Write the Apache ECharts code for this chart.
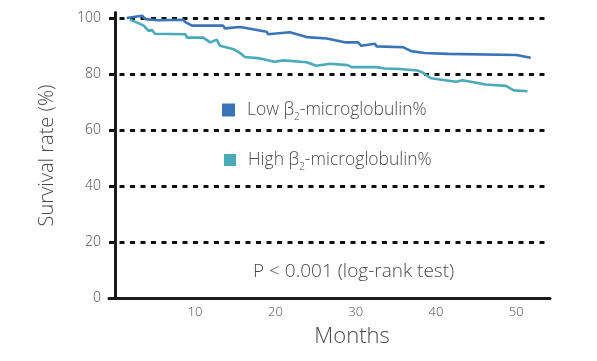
<!DOCTYPE html>
<html>
<head>
<meta charset="utf-8">
<script src="https://cdn.jsdelivr.net/npm/echarts@6/dist/echarts.min.js"></script>
<style>
  html, body { margin: 0; padding: 0; background: #fff; }
  #chart { width: 597px; height: 361px; }
</style>
</head>
<body>
<div id="chart"></div>
<script>
// survival curves: [month, survival %]
var lowMonths = [1.5, 3.4, 3.8, 5.4, 8.5, 8.8, 9.6, 13.5, 13.7, 15.6, 17.2, 18.9, 19.1, 21.8, 23.9, 26.4, 28.8, 30.3, 30.7, 32.4, 32.6, 35.9, 36.9, 38.6, 41.5, 41.7, 50.0, 51.8];
var lowRate = [100, 100.8, 99.6, 99.2, 99.4, 98.5, 97.3, 97.3, 96.3, 96.8, 96.0, 95.1, 94.2, 94.9, 93.2, 92.7, 91.3, 91.3, 90.1, 90.8, 89.9, 89.6, 88.2, 87.5, 87.2, 86.8, 86.8, 85.8];

var highMonths = [1.9, 2.5, 3.6, 4.2, 4.6, 5.0, 8.8, 9.0, 11.0, 11.9, 12.7, 13.1, 14.8, 15.6, 16.2, 18.1, 19.9, 21.0, 23.9, 25.1, 26.8, 29.0, 29.5, 32.6, 33.6, 35.5, 37.7, 38.2, 39.4, 42.5, 43.3, 46.2, 48.7, 49.7, 51.4];
var highRate = [99.4, 98.7, 97.3, 95.4, 95.8, 94.4, 94.2, 93.0, 93.0, 91.3, 92.3, 90.1, 88.9, 87.5, 86.1, 85.6, 84.4, 84.9, 84.2, 83.0, 83.7, 83.2, 82.5, 82.5, 82.0, 81.8, 81.3, 80.8, 78.5, 77.3, 77.8, 76.3, 75.8, 74.2, 73.9];

var xTicks = [10, 20, 30, 40, 50];
var yTicks = [0, 20, 40, 60, 80, 100];
var seriesNames = ['Low β2-microglobulin%', 'High β2-microglobulin%'];
var pText = 'P < 0.001 (log-rank test)';

function zip(xs, ys) {
  return xs.map(function (x, i) { return [x, ys[i]]; });
}

var font = '"Open Sans", "Noto Sans", sans-serif';
var grey = '#4a4a4a';

// legend label with a subscript 2
function legendLabel(name) {
  var parts = name.split('β2');
  return '{g|}{a|' + parts[0] + 'β}{s|2}{a|' + parts[1] + '}';
}
var legendRich = {
  g: { width: 7 },
  a: { fontSize: 17.5, color: grey, fontFamily: font, fontWeight: 300, lineHeight: 20 },
  s: { fontSize: 10, color: grey, fontFamily: font, fontWeight: 300, lineHeight: 25, verticalAlign: 'bottom' }
};

var chart = echarts.init(document.getElementById('chart'));
chart.setOption({
  animation: false,
  textStyle: { fontFamily: font, fontWeight: 300 },
  grid: { left: 109, right: 47, top: 12.4, bottom: 62.5, containLabel: false },
  legend: [
    {
      data: [seriesNames[0]], left: 222, top: 101, padding: 0,
      icon: 'rect', itemWidth: 13, itemHeight: 13, itemGap: 0,
      formatter: legendLabel, textStyle: { rich: legendRich }
    },
    {
      data: [seriesNames[1]], left: 224, top: 151, padding: 0,
      icon: 'rect', itemWidth: 12, itemHeight: 12, itemGap: 0,
      formatter: legendLabel, textStyle: { rich: legendRich }
    }
  ],
  xAxis: {
    type: 'value', min: -0.72, max: 54.2,
    name: 'Months', nameLocation: 'middle', nameGap: 27,
    nameTextStyle: { fontSize: 22, color: grey, fontWeight: 300, padding: [0, 0, 0, 45] },
    axisLine: { show: true, lineStyle: { color: '#1a1a1a', width: 3 } },
    axisTick: { show: false },
    splitLine: { show: false },
    axisLabel: { customValues: xTicks, fontSize: 13, color: grey, fontWeight: 300, margin: 7 }
  },
  yAxis: {
    type: 'value', min: 0, max: 102, interval: 20,
    name: 'Survival rate (%)', nameLocation: 'middle', nameGap: 52,
    nameTextStyle: { fontSize: 20, color: grey, fontWeight: 300 },
    axisLine: { show: true, lineStyle: { color: '#1a1a1a', width: 3 } },
    axisTick: { show: false },
    axisLabel: { customValues: yTicks, fontSize: 14, color: grey, fontWeight: 300, margin: 8, padding: [4, 0, 0, 0] },
    splitLine: {
      show: true, showMinLine: false, showMaxLine: false,
      lineStyle: { color: '#111', width: 3, type: [5, 5.5] }
    }
  },
  graphic: [{
    type: 'text', left: 253, top: 262,
    style: { text: pText, fontSize: 19, fill: grey, fontFamily: font, fontWeight: 300 }
  }],
  series: [
    {
      name: seriesNames[0], type: 'line', data: zip(lowMonths, lowRate),
      showSymbol: false, symbol: 'none', z: 3,
      lineStyle: { color: '#3a73b7', width: 2.6 }, itemStyle: { color: '#3a73b7' }
    },
    {
      name: seriesNames[1], type: 'line', data: zip(highMonths, highRate),
      showSymbol: false, symbol: 'none', z: 3,
      lineStyle: { color: '#4aaab9', width: 2.6 }, itemStyle: { color: '#4aaab9' }
    }
  ]
});
</script>
</body>
</html>
